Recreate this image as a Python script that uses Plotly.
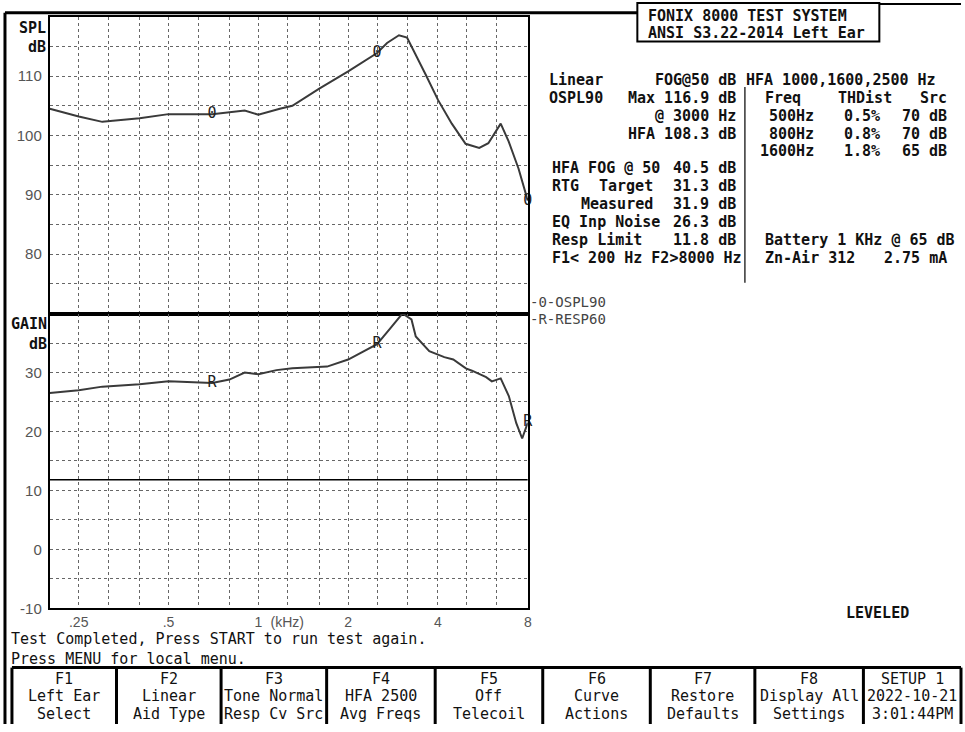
import numpy as np
import plotly.graph_objects as go

W, H = 965, 732

# ---------------- data ----------------
ospl_freq = [200, 250, 300, 400, 500, 630, 700, 900, 1000, 1180, 1300, 1600, 2000,
             2500, 2700, 2960, 3150, 3650, 4000, 4450, 4950, 5500, 5900, 6490, 6900, 7450, 8000]
ospl_db = [104.5, 103.2, 102.3, 102.9, 103.6, 103.6, 103.6, 104.2, 103.5, 104.5, 105.0, 107.9, 110.8,
           113.9, 115.6, 116.9, 116.5, 110.1, 106.0, 102.0, 98.6, 97.9, 98.7, 102.0, 99.0, 94.4, 89.0]
ospl_marker_freq = [200, 700, 2500, 8000]

gain_freq = [200, 250, 300, 400, 500, 630, 700, 800, 900, 1000, 1150, 1300, 1500, 1700, 2000,
             2500, 2750, 3040, 3260, 3370, 3740, 3950, 4200, 4500, 4750, 4960, 5200, 5490,
             5800, 6060, 6490, 6910, 7320, 7660, 8000]
gain_db = [26.5, 27.0, 27.6, 28.0, 28.5, 28.3, 28.2, 28.8, 30.0, 29.7, 30.4, 30.7, 30.8, 31.0, 32.2,
           34.8, 37.3, 40.0, 39.0, 36.1, 33.6, 33.1, 32.6, 32.2, 31.4, 30.7, 30.3, 29.7,
           29.2, 28.5, 29.0, 26.0, 21.4, 18.8, 21.5]
gain_marker_freq = [200, 700, 2500, 8000]

resp_limit = 11.8

grid_freq = [250, 315, 400, 500, 630, 800, 1000, 1250, 1600, 2000, 2500, 3150, 4000, 5000, 6300, 8000]
x_tick_text = [".25", "", "", ".5", "", "", "1", "(kHz)", "", "2", "", "", "4", "", "", "8"]

spl_tickvals = [75, 80, 85, 90, 95, 100, 105, 110, 115]
spl_ticktext = ["", "80", "", "90", "", "100", "", "110", ""]
gain_tickvals = [-10, -5, 0, 5, 10, 15, 20, 25, 30, 35]
gain_ticktext = ["-10", "", "0", "", "10", "", "20", "", "30", ""]

# right panel text rows: (text, x_px, anchor, y_px)
panel_rows = [
    ("Linear", 550, "left", 81), ("FOG@50 dB", 740, "right", 81), ("HFA 1000,1600,2500 Hz", 748, "left", 81),
    ("OSPL90", 550, "left", 99), ("Max 116.9 dB", 740, "right", 99), ("Freq", 767, "left", 99),
    ("THDist", 840, "left", 99), ("Src", 923, "left", 99),
    ("@ 3000 Hz", 740, "right", 117), ("500Hz", 818, "right", 117), ("0.5%", 885, "right", 117), ("70 dB", 952, "right", 117),
    ("HFA 108.3 dB", 740, "right", 135), ("800Hz", 818, "right", 135), ("0.8%", 885, "right", 135), ("70 dB", 952, "right", 135),
    ("1600Hz", 818, "right", 153), ("1.8%", 885, "right", 153), ("65 dB", 952, "right", 153),
    ("HFA FOG @ 50", 553, "left", 170), ("40.5 dB", 740, "right", 170),
    ("RTG", 553, "left", 188), ("Target", 657, "right", 188), ("31.3 dB", 740, "right", 188),
    ("Measured", 657, "right", 206), ("31.9 dB", 740, "right", 206),
    ("EQ Inp Noise", 553, "left", 224), ("26.3 dB", 740, "right", 224),
    ("Resp Limit", 553, "left", 243), ("11.8 dB", 740, "right", 243), ("Battery 1 KHz @ 65 dB", 767, "left", 243),
    ("F1&lt; 200 Hz F2&gt;8000 Hz", 553, "left", 261), ("Zn-Air 312", 767, "left", 261), ("2.75 mA", 952, "right", 261),
]

key_labels = [
    ("F1", "Left Ear", "Select"),
    ("F2", "Linear", "Aid Type"),
    ("F3", "Tone Normal", "Resp Cv Src"),
    ("F4", "HFA 2500", "Avg Freqs"),
    ("F5", "Off", "Telecoil"),
    ("F6", "Curve", "Actions"),
    ("F7", "Restore", "Defaults"),
    ("F8", "Display All", "Settings"),
    ("SETUP 1", "2022-10-21", "3:01:44PM"),
]
key_edges = [12, 117, 222, 328, 437, 545, 653, 758, 867, 965]

MONO = "DejaVu Sans Mono"
SANS = "Liberation Sans"


def px(x):
    return x / W


def py(y):
    return 1 - y / H


fig = go.Figure()

LINE = "#3a3a3a"
fig.add_trace(go.Scatter(x=ospl_freq, y=ospl_db, mode="lines", line=dict(color=LINE, width=2),
                         xaxis="x", yaxis="y", showlegend=False, hoverinfo="skip"))
fig.add_trace(go.Scatter(x=ospl_marker_freq,
                         y=[ospl_db[ospl_freq.index(f)] for f in ospl_marker_freq],
                         mode="text", text=["0"] * len(ospl_marker_freq),
                         textfont=dict(family=MONO, size=15, color="#222"),
                         xaxis="x", yaxis="y", showlegend=False, hoverinfo="skip", cliponaxis=False))
fig.add_trace(go.Scatter(x=gain_freq, y=gain_db, mode="lines", line=dict(color=LINE, width=2),
                         xaxis="x2", yaxis="y2", showlegend=False, hoverinfo="skip"))
fig.add_trace(go.Scatter(x=gain_marker_freq,
                         y=[gain_db[gain_freq.index(f)] for f in gain_marker_freq],
                         mode="text", text=["R"] * len(gain_marker_freq),
                         textfont=dict(family=MONO, size=15, color="#222"),
                         xaxis="x2", yaxis="y2", showlegend=False, hoverinfo="skip", cliponaxis=False))

xdom = [px(50), px(530)]
xcommon = dict(type="log", range=[np.log10(200), np.log10(8000)], domain=xdom,
               tickvals=grid_freq, showgrid=True, gridcolor="#666", gridwidth=1, griddash="dot",
               showline=True, linecolor="black", linewidth=2, mirror=True, zeroline=False, ticks="")
ycommon = dict(showgrid=True, gridcolor="#666", gridwidth=1, griddash="dot",
               showline=True, linecolor="black", linewidth=2, mirror=True, zeroline=False,
               ticks="outside", ticklen=3, tickcolor="white",
               tickfont=dict(family=SANS, size=15, color="#555"))

fig.update_layout(
    width=W, height=H, margin=dict(l=0, r=0, t=0, b=0),
    paper_bgcolor="white", plot_bgcolor="white",
    xaxis=dict(**xcommon, anchor="y", showticklabels=False),
    yaxis=dict(**ycommon, domain=[py(317), py(17)], range=[70, 120], anchor="x",
               tickvals=spl_tickvals, ticktext=spl_ticktext),
    xaxis2=dict(**xcommon, anchor="y2", ticktext=x_tick_text, showticklabels=True,
                tickfont=dict(family=SANS, size=14, color="#555")),
    yaxis2=dict(**ycommon, domain=[py(615), py(317)], range=[-10, 40], anchor="x2",
                tickvals=gain_tickvals, ticktext=gain_ticktext),
)

# response limit line
fig.add_shape(type="line", xref="x2", yref="y2", x0=200, x1=8000, y0=resp_limit, y1=resp_limit,
              line=dict(color="black", width=1.5))


def pline(x0, y0, x1, y1, w=2, color="black", dash="solid"):
    fig.add_shape(type="line", xref="paper", yref="paper", x0=px(x0), y0=py(y0), x1=px(x1), y1=py(y1),
                  line=dict(color=color, width=w, dash=dash))


# screen frame
pline(5, 13, 640, 13, 3)
pline(883, 4, 965, 4, 2)
pline(5, 13, 5, 732, 3)
# title box
fig.add_shape(type="rect", xref="paper", yref="paper", x0=px(640), y0=py(42), x1=px(883), y1=py(3),
              line=dict(color="black", width=2))
# panel separator
pline(748, 88, 748, 286, 1.5, "#333")
# function key bar
pline(12, 675, 965, 675, 3)
for e in key_edges:
    pline(e, 675, e, 732, 3)

ann = []


def text(t, x, y, anchor="left", size=15, color="#111", family=MONO, bold=True):
    ann.append(dict(text=("<b>%s</b>" % t) if bold else t, x=px(x), y=py(y), xref="paper", yref="paper",
                    xanchor=anchor, yanchor="middle", showarrow=False, borderpad=0,
                    font=dict(family=family, size=size, color=color)))


text("FONIX 8000 TEST SYSTEM", 650, 16)
text("ANSI S3.22-2014 Left Ear", 650, 33)
for t, x, a, y in panel_rows:
    text(t, x, y, a)

text("-0-OSPL90", 531, 305, size=14, color="#444", bold=False)
text("-R-RESP60", 531, 323, size=14, color="#444", bold=False)

text("SPL", 47, 28, "right", size=15)
text("dB", 47, 48, "right", size=15)
text("GAIN", 48, 328, "right", size=15)
text("dB", 48, 348, "right", size=15)

text("LEVELED", 881, 620, "center")

text("Test Completed, Press START to run test again.", 10, 646, bold=False)
text("Press MENU for local menu.", 10, 666, bold=False)

for i, (a, b, c) in enumerate(key_labels):
    cx = (key_edges[i] + key_edges[i + 1]) / 2
    text(a, cx, 687, "center", bold=False)
    text(b, cx, 704, "center", bold=False)
    text(c, cx, 722, "center", bold=False)

fig.update_layout(annotations=ann)

fig.write_html("out.html", config={"displayModeBar": False},
               post_script="document.body.style.margin='0px';")
